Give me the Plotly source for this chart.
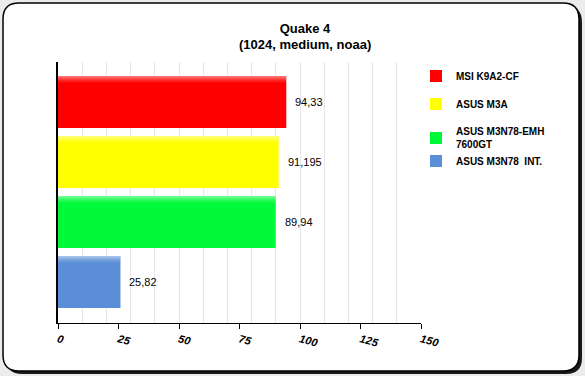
import plotly.graph_objects as go

# ---- data ----
models = ["MSI K9A2-CF", "ASUS M3A", "ASUS M3N78-EMH<br>7600GT", "ASUS M3N78  INT."]
fps = [94.33, 91.195, 89.94, 25.82]
value_labels = ["94,33", "91,195", "89,94", "25,82"]
colors = ["#ff0000", "#ffff00", "#00fa3a", "#5a8ed6"]
x_ticks = [0, 25, 50, 75, 100, 125, 150]

W, H = 585, 376
L, R, T, B = 58, 164, 62, 53
PW, PH = W - L - R, H - T - B
BAR_W = 0.867

def px(x):
    return (x - L) / PW

def py(y):
    return (H - B - y) / PH

def rounded_rect(x0, y0, x1, y1, r):
    def P(x, y):
        return f"{px(x):.5f},{py(y):.5f}"
    return (f"M {P(x0 + r, y0)} L {P(x1 - r, y0)} Q {P(x1, y0)} {P(x1, y0 + r)} "
            f"L {P(x1, y1 - r)} Q {P(x1, y1)} {P(x1 - r, y1)} "
            f"L {P(x0 + r, y1)} Q {P(x0, y1)} {P(x0, y1 - r)} "
            f"L {P(x0, y0 + r)} Q {P(x0, y0)} {P(x0 + r, y0)} Z")

legend_centers = [76, 104, 138, 161]

fig = go.Figure()
legend_layouts = {}
for i, (m, v, c) in enumerate(zip(models, fps, colors)):
    lname = "legend" if i == 0 else f"legend{i + 1}"
    fig.add_trace(go.Bar(
        y=[m], x=[v], orientation="h", name=m,
        marker=dict(color=c, line=dict(width=0)),
        width=BAR_W, legend=lname,
    ))
    legend_layouts[lname] = dict(
        x=px(416), y=py(legend_centers[i]), xanchor="left", yanchor="middle",
        bgcolor="rgba(0,0,0,0)",
        font=dict(family="Liberation Sans, Arial", size=10, color="#000", weight="bold"))

# soft highlight on top edge of bars (gradient look)
for off, wd, op in [(-BAR_W / 2, 0.03, 0.45), (-BAR_W / 2 + 0.03, 0.03, 0.3),
                    (-BAR_W / 2 + 0.06, 0.03, 0.15), (-BAR_W / 2 + 0.09, 0.02, 0.06)]:
    fig.add_trace(go.Bar(
        y=models, x=fps, orientation="h", showlegend=False, hoverinfo="skip",
        marker=dict(color=f"rgba(255,255,255,{op})", line=dict(width=0)),
        width=wd, offset=off,
    ))

# grid helper axis
fig.add_trace(go.Scatter(x=[0], y=[models[0]], xaxis="x2", mode="markers",
                         marker=dict(opacity=0), showlegend=False, hoverinfo="skip"))

annotations = []
for m, v, t in zip(models, fps, value_labels):
    annotations.append(dict(x=v, y=m, xref="x", yref="y", text=t, showarrow=False,
                            xanchor="left", xshift=7,
                            font=dict(family="Liberation Sans, Arial", size=11, color="#000")))
annotations.append(dict(x=px(305), y=py(44), xref="paper", yref="paper",
                        text="<b>(1024, medium, noaa)</b>", showarrow=False,
                        xanchor="center", yanchor="middle",
                        font=dict(family="Liberation Sans, Arial", size=13, color="#000")))

shapes = [
    dict(type="path", xref="paper", yref="paper", layer="below",
         path=rounded_rect(6, 6, 582, 374, 16), fillcolor="#1a1a1a", line=dict(width=0)),
    dict(type="path", xref="paper", yref="paper", layer="below",
         path=rounded_rect(3, 3, 579, 371, 16), fillcolor="#ffffff",
         line=dict(color="#000000", width=1.5)),
]

fig.update_layout(
    width=W, height=H,
    margin=dict(l=L, r=R, t=T, b=B),
    paper_bgcolor="#ececec", plot_bgcolor="rgba(0,0,0,0)",
    barmode="overlay",
    title=dict(text="<b>Quake 4</b>", x=305 / W, xref="container", xanchor="center",
               y=1 - 28 / H, yanchor="middle",
               font=dict(family="Liberation Sans, Arial", size=13, color="#000")),
    xaxis=dict(range=[0, 150], tickvals=x_ticks, ticktext=[str(t) for t in x_ticks],
               showgrid=False, zeroline=False, showline=True, linecolor="#000", linewidth=1,
               ticks="outside", ticklen=5, tickcolor="#000", tickangle=15,
               tickfont=dict(family="Liberation Sans, Arial", size=11, color="#000",
                             weight="bold", style="italic")),
    xaxis2=dict(overlaying="x", range=[0, 150], dtick=10, tick0=0, showgrid=True,
                gridcolor="#e6e6e6", gridwidth=1, showticklabels=False, ticks="",
                showline=False, zeroline=False, side="top"),
    yaxis=dict(categoryorder="array", categoryarray=models, range=[3.683, -0.667],
               showticklabels=False, showgrid=False, zeroline=False,
               showline=True, linecolor="#000", linewidth=1.5, ticks=""),
    annotations=annotations,
    shapes=shapes,
    showlegend=True,
    **legend_layouts,
)

fig.write_html("out.html", config={"displayModeBar": False},
               post_script="document.body.style.margin='0';document.body.style.overflow='hidden';")
